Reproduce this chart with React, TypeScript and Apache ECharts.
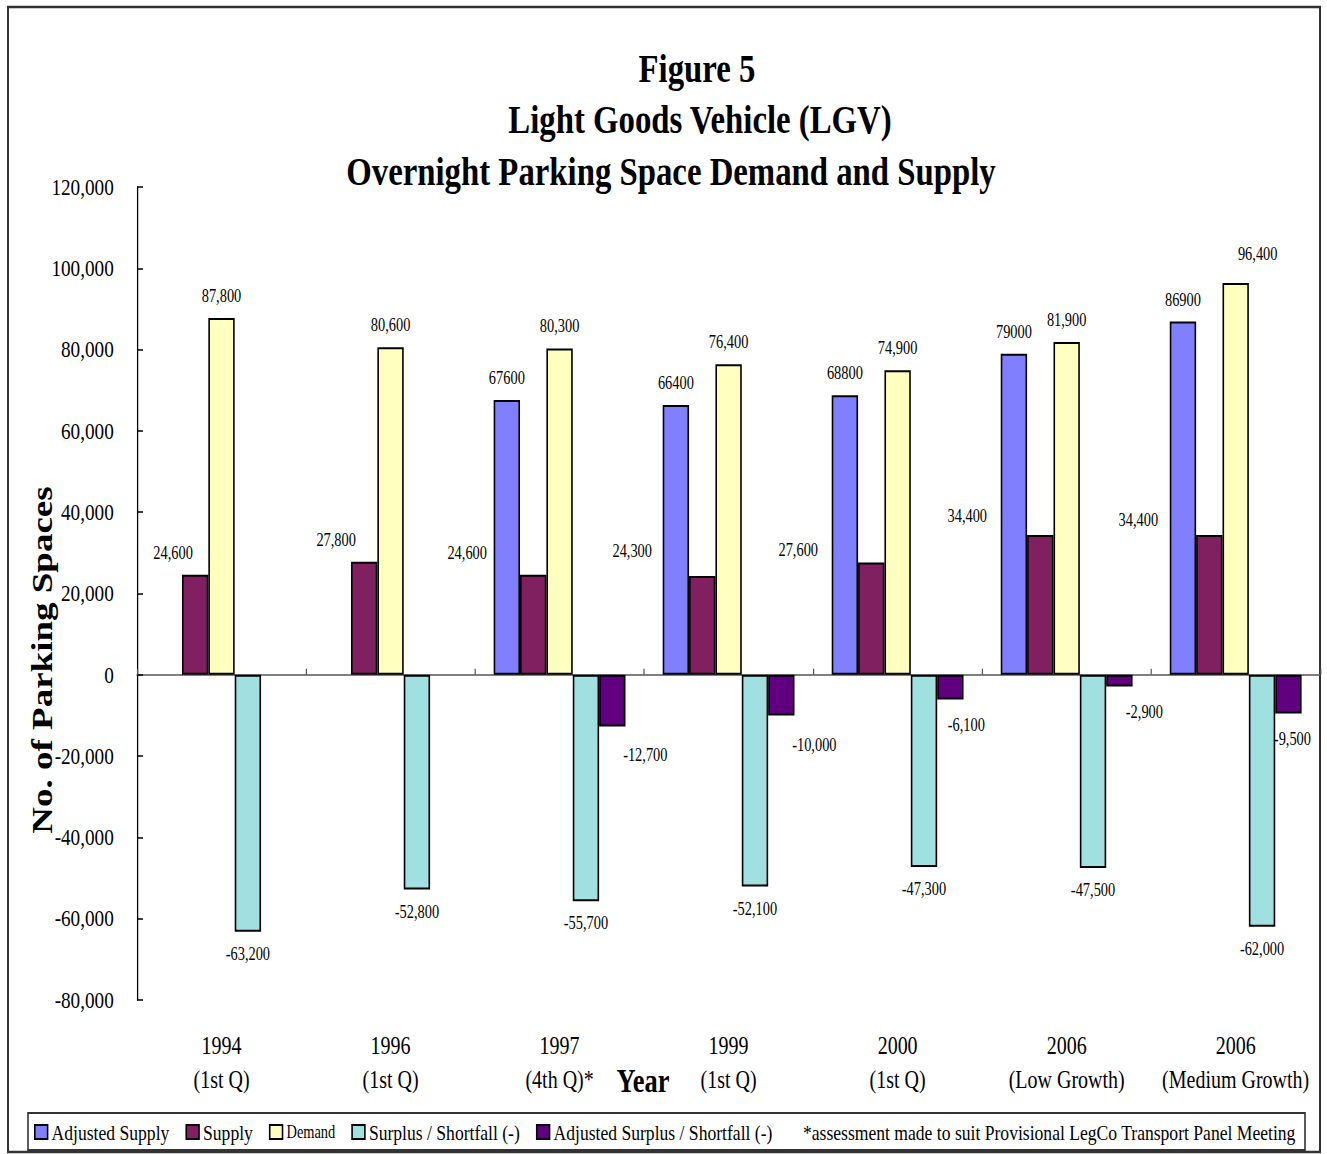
import React, { useEffect, useRef } from "react";
import * as echarts from "echarts";

// Horizontal squeeze applied to the whole drawing (narrow, Excel-style lettering).
const S = 0.8;
const PAGE_W = 1327;
const PAGE_H = 1154;
const W = PAGE_W / S;
const wx = (x: number) => x / S;

const FONT = '"Liberation Serif", "Times New Roman", serif';

const categories = [
  "1994\n(1st Q)",
  "1996\n(1st Q)",
  "1997\n(4th Q)*",
  "1999\n(1st Q)",
  "2000\n(1st Q)",
  "2006\n(Low Growth)",
  "2006\n(Medium Growth)",
];

const adjustedSupply: (number | null)[] = [null, null, 67600, 66400, 68800, 79000, 86900];
const supply = [24600, 27800, 24600, 24300, 27600, 34400, 34400];
const demand = [87800, 80600, 80300, 76400, 74900, 81900, 96400];
const surplus = [-63200, -52800, -55700, -52100, -47300, -47500, -62000];
const adjustedSurplus: (number | null)[] = [null, null, -12700, -10000, -6100, -2900, -9500];

const seriesNames = [
  "Adjusted Supply",
  "Supply",
  "Demand",
  "Surplus / Shortfall (-)",
  "Adjusted Surplus / Shortfall (-)",
];
const seriesColors = ["#8080FF", "#802060", "#FFFFC0", "#A0E0E0", "#600080"];

// Label nudges [dx, dy] in screen pixels, per category.
const zeroShift = categories.map(() => [0, 0]);
const supplyLabelShift = [[-22, 0], [-28, 0], [-66, 0], [-70, -3], [-73, 9], [-73, 3], [-71, 7]];
const demandLabelShift = [[0, 0], [0, 0], [0, 0], [0, 0], [0, 0], [0, 0], [22, -7]];
const adjSurplusLabelShift = [[0, 0], [0, 0], [33, 6], [33, 7], [16, 3], [25, 3], [4, 4]];

const withComma = (v: number) => v.toLocaleString("en-US");

function buildData(values: (number | null)[], shift: number[][]) {
  return values.map((v, i) =>
    v == null
      ? "-"
      : { value: v, label: { offset: [shift[i][0] / S, shift[i][1]] } }
  );
}

function barSeries(
  idx: number,
  values: (number | null)[],
  shift: number[][],
  negative: boolean,
  plain: boolean
) {
  return {
    name: seriesNames[idx],
    type: "bar",
    xAxisIndex: 0,
    barGap: "0%",
    barCategoryGap: "22%",
    data: buildData(values, shift),
    itemStyle: { color: seriesColors[idx], borderColor: "#000", borderWidth: 2 },
    label: {
      show: true,
      position: negative ? "bottom" : "top",
      distance: 13,
      fontSize: 18,
      fontFamily: FONT,
      color: "#000",
      formatter: (p: any) => (plain ? String(p.value) : withComma(p.value)),
    },
  };
}

const titleText = (text: string, x: number, y: number) => ({
  type: "text",
  x: wx(x),
  y,
  style: {
    text,
    fontSize: 41,
    fontWeight: "bold",
    fontFamily: FONT,
    fill: "#000",
    align: "center",
    verticalAlign: "middle",
  },
});

export default function App() {
  const ref = useRef<HTMLDivElement>(null);

  useEffect(() => {
    if (!ref.current) return;
    const chart = echarts.init(ref.current, undefined, { renderer: "svg" });

    const option: any = {
      animation: false,
      backgroundColor: "#fff",
      textStyle: { fontFamily: FONT, color: "#000" },
      grid: {
        left: wx(137),
        right: W - wx(1320),
        top: 187,
        bottom: PAGE_H - 1000,
        containLabel: false,
      },
      xAxis: [
        {
          type: "category",
          data: categories,
          axisLine: { onZero: true, lineStyle: { color: "#555", width: 1.5 } },
          axisTick: { show: true, inside: true, length: 6, lineStyle: { color: "#555", width: 1.5 } },
          axisLabel: { show: false },
          splitLine: { show: false },
        },
        {
          type: "category",
          data: categories,
          position: "bottom",
          axisLine: { show: false, onZero: false },
          axisTick: { show: false },
          axisLabel: {
            show: true,
            interval: 0,
            margin: 29,
            fontSize: 25,
            lineHeight: 34,
            fontFamily: FONT,
            color: "#000",
          },
        },
      ],
      yAxis: {
        type: "value",
        min: -80000,
        max: 120000,
        interval: 20000,
        axisLine: { show: true, lineStyle: { color: "#000", width: 1.6 } },
        axisTick: { show: true, inside: true, length: 7.5, lineStyle: { color: "#000", width: 1.5 } },
        splitLine: { show: false },
        axisLabel: {
          margin: 29,
          fontSize: 24,
          fontFamily: FONT,
          color: "#000",
          formatter: (v: number) => withComma(v),
        },
      },
      legend: {
        left: wx(34),
        top: 1121,
        padding: 0,
        itemGap: 20,
        itemWidth: 16,
        itemHeight: 14,
        icon: "rect",
        data: seriesNames,
        textStyle: {
          fontSize: 22,
          fontFamily: FONT,
          color: "#000",
          rich: { small: { fontSize: 18, fontFamily: FONT, color: "#000" } },
        },
        formatter: (name: string) => (name === "Demand" ? `{small|${name}}` : name),
      },
      series: [
        barSeries(0, adjustedSupply, zeroShift, false, true),
        barSeries(1, supply, supplyLabelShift, false, false),
        barSeries(2, demand, demandLabelShift, false, false),
        barSeries(3, surplus, zeroShift, true, false),
        barSeries(4, adjustedSurplus, adjSurplusLabelShift, true, false),
      ],
      graphic: [
        {
          type: "rect",
          silent: true,
          shape: { x: wx(8), y: 7, width: wx(1320) - wx(8), height: 1145 },
          style: { fill: "none", stroke: "#333", lineWidth: 2.5 },
        },
        {
          type: "rect",
          silent: true,
          shape: { x: wx(28), y: 1113, width: wx(1305) - wx(28), height: 37 },
          style: { fill: "none", stroke: "#333", lineWidth: 2 },
        },
        titleText("Figure 5", 697, 68),
        titleText("Light Goods Vehicle (LGV)", 700, 119),
        titleText("Overnight Parking Space Demand and Supply", 671, 171),
        {
          type: "text",
          x: wx(42),
          y: 660,
          rotation: Math.PI / 2,
          style: {
            text: "No. of Parking Spaces",
            fontSize: 37,
            fontWeight: "bold",
            fontFamily: FONT,
            fill: "#000",
            align: "center",
            verticalAlign: "middle",
          },
        },
        {
          type: "text",
          x: wx(643),
          y: 1080,
          style: {
            text: "Year",
            fontSize: 33,
            fontWeight: "bold",
            fontFamily: FONT,
            fill: "#000",
            align: "center",
            verticalAlign: "middle",
          },
        },
        {
          type: "text",
          x: wx(803),
          y: 1132,
          style: {
            text: "*assessment made to suit Provisional LegCo Transport Panel Meeting",
            fontSize: 22,
            fontFamily: FONT,
            fill: "#000",
            align: "left",
            verticalAlign: "middle",
          },
        },
      ],
    };

    chart.setOption(option);
    return () => chart.dispose();
  }, []);

  return (
    <div
      style={{
        position: "fixed",
        left: 0,
        top: 0,
        width: PAGE_W,
        height: PAGE_H,
        overflow: "hidden",
        background: "#fff",
      }}
    >
      <div
        ref={ref}
        style={{
          width: W,
          height: PAGE_H,
          transform: `scaleX(${S})`,
          transformOrigin: "0 0",
        }}
      />
    </div>
  );
}
